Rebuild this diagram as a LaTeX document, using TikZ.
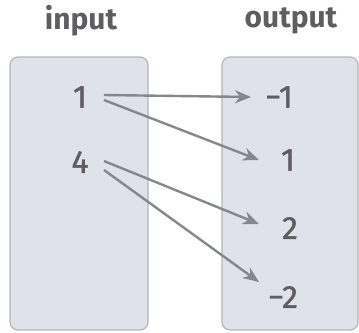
\documentclass[tikz,border=0pt]{standalone}
\usepackage{fontspec}
\setmainfont{Fira Sans}
\usetikzlibrary{arrows.meta}
\definecolor{boxfill}{HTML}{DFE2E8}
\definecolor{boxline}{HTML}{B4B6BA}
\definecolor{txt}{HTML}{5E5E60}
\definecolor{arr}{HTML}{85878C}
\tikzset{
  setbox/.style={draw=boxline, fill=boxfill, line width=1.2bp, rounded corners=8bp},
  title/.style={text=txt, font=\fontsize{30}{34}\selectfont\bfseries, inner sep=0pt},
  num/.style={text=txt, font=\fontsize{32}{36}\selectfont\addfontfeatures{FakeBold=1.2}, inner sep=0pt},
  maparrow/.style={draw=arr, line width=2.4bp, -{Stealth[length=16bp,width=13bp]}}
}
\begin{document}
\begin{tikzpicture}[x=1bp,y=-1bp]
\useasboundingbox (0,0) rectangle (359,333);
\draw[setbox] (10,57) rectangle (148,330);
\draw[setbox] (222,57) rectangle (358,330);
\node[title] (tin) at (81,21) {input};
\node[title] (tout) at (291,21) {output};
\node[num] (a1) at (80,97) {1};
\node[num] (a4) at (80,162) {4};
\node[num] (bm1) at (279,97) {−1};
\node[num] (b1) at (288,160) {1};
\node[num] (b2) at (290,228) {2};
\node[num] (bm2) at (283,297) {−2};
\coordinate (s1a) at (104,95);
\coordinate (s1b) at (104,100);
\coordinate (s4a) at (104,161);
\coordinate (s4b) at (104,170);
\coordinate (e1) at (251,97);
\coordinate (e2) at (259,160);
\coordinate (e3) at (259,224);
\coordinate (e4) at (259,282);
\draw[maparrow] (s1a) -- (e1);
\draw[maparrow] (s1b) -- (e2);
\draw[maparrow] (s4a) -- (e3);
\draw[maparrow] (s4b) -- (e4);
\end{tikzpicture}
\end{document}
